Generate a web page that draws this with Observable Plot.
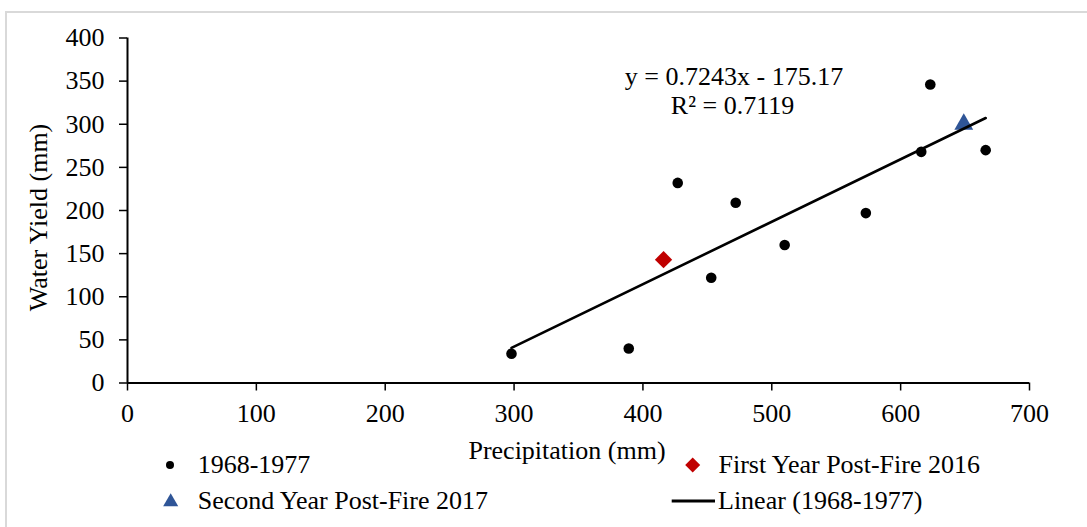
<!DOCTYPE html>
<html>
<head>
<meta charset="utf-8">
<script src="https://cdn.jsdelivr.net/npm/d3@7"></script>
<script src="https://cdn.jsdelivr.net/npm/@observablehq/plot@0.6"></script>
<style>
  html, body { margin: 0; padding: 0; background: #fff; }
  body { width: 1087px; height: 527px; overflow: hidden; position: relative;
         font-family: "Liberation Serif", "Times New Roman", serif; color: #000; }
  #frame { position: absolute; left: 5px; top: 11px; width: 1200px; height: 600px;
           border: 2px solid #d9d9d9; box-sizing: border-box; pointer-events: none; }
  #chart { position: absolute; left: 0; top: 0; }
  #legendSvg { position: absolute; left: 0; top: 0; }
  .lg { position: absolute; font-size: 26px; line-height: 30px; height: 30px; white-space: nowrap; }
</style>
</head>
<body>
<div id="chart"></div>
<svg id="legendSvg" width="1087" height="527"></svg>
<div id="legend"></div>
<div id="frame"></div>
<script>
// ---- data ----
const precip1968 = [298, 389, 427, 453, 472, 510, 573, 616, 623, 666];
const yield1968  = [34, 40, 232, 122, 209, 160, 197, 268, 346, 270];
const precip2016 = [416];
const yield2016  = [143];
const precip2017 = [649];
const yield2017  = [300];
const trendSlope = 0.7243;
const trendIntercept = -175.17;
const trendR2 = 0.7119;
const xTicks = [0, 100, 200, 300, 400, 500, 600, 700];
const yTicks = [0, 50, 100, 150, 200, 250, 300, 350, 400];
const seriesNames = ["1968-1977", "First Year Post-Fire 2016", "Second Year Post-Fire 2017", "Linear (1968-1977)"];
const xLabel = "Precipitation (mm)";
const yLabel = "Water Yield (mm)";
const colRed = "#C00000";
const colBlue = "#2F5597";

// ---- tables ----
const base = precip1968.map((x, i) => ({x, y: yield1968[i]}));
const first = precip2016.map((x, i) => ({x, y: yield2016[i]}));
const second = precip2017.map((x, i) => ({x, y: yield2017[i]}));
const trend = d3.extent(precip1968).map(x => ({x, y: trendSlope * x + trendIntercept}));
const eqLine1 = `y = ${trendSlope}x - ${Math.abs(trendIntercept)}`;
const eqLine2 = `R\u00B2 = ${trendR2}`;

const plot = Plot.plot({
  width: 1087,
  height: 470,
  marginLeft: 127,
  marginRight: 58,
  marginTop: 37.5,
  marginBottom: 87.5,
  style: {fontFamily: "Liberation Serif, 'Times New Roman', serif", fontSize: "26px", color: "#000", background: "transparent", overflow: "visible"},
  x: {domain: [0, 700]},
  y: {domain: [0, 400]},
  marks: [
    Plot.axisY({ticks: yTicks, tickSize: 8, tickPadding: 15, label: null, strokeWidth: 1.5, tickFormat: d => String(d)}),
    Plot.axisX({ticks: xTicks, tickSize: 8, tickPadding: 13, label: null, strokeWidth: 1.5, tickFormat: d => String(d)}),
    Plot.ruleX([0], {stroke: "#000", strokeWidth: 2}),
    Plot.ruleY([0], {stroke: "#000", strokeWidth: 2}),
    Plot.dot(base, {x: "x", y: "y", r: 5.3, fill: "#000", stroke: "none"}),
    Plot.dot(first, {x: "x", y: "y", symbol: "diamond2", r: 7.8, fill: colRed, stroke: "none"}),
    Plot.dot(second, {x: "x", y: "y", symbol: "triangle", r: 7, fill: colBlue, stroke: "none"}),
    Plot.line(trend, {x: "x", y: "y", stroke: "#000", strokeWidth: 2.6}),
    Plot.text([eqLine1], {frameAnchor: "top", lineAnchor: "middle", textAnchor: "middle", dx: 155.5, dy: 38.5}),
    Plot.text([eqLine2], {frameAnchor: "top", lineAnchor: "middle", textAnchor: "middle", dx: 154, dy: 67.5}),
    Plot.text([yLabel], {frameAnchor: "left", lineAnchor: "middle", textAnchor: "middle", rotate: -90, dx: -89, dy: 7}),
    Plot.text([xLabel], {frameAnchor: "bottom", lineAnchor: "middle", textAnchor: "middle", dx: -11.5, dy: 67.5})
  ]
});
document.getElementById("chart").appendChild(plot);

// ---- legend (below the plot area) ----
const lsvg = d3.select("#legendSvg");
const rowY = [465, 501];
lsvg.append("circle").attr("cx", 170).attr("cy", rowY[0]).attr("r", 4).attr("fill", "#000");
lsvg.append("path").attr("d", d3.symbol(d3.symbolDiamond2, Math.PI * 6.75 * 6.75)())
  .attr("transform", `translate(692.7,${rowY[0]})`).attr("fill", colRed);
lsvg.append("path").attr("d", d3.symbol(d3.symbolTriangle, Math.PI * 5.6 * 5.6)())
  .attr("transform", `translate(170.7,${rowY[1] + 1})`).attr("fill", colBlue);
lsvg.append("line").attr("x1", 671.7).attr("x2", 715).attr("y1", rowY[1]).attr("y2", rowY[1])
  .attr("stroke", "#000").attr("stroke-width", 3);

const legendPos = [[197.7, rowY[0]], [718.5, rowY[0]], [197.7, rowY[1]], [718, rowY[1]]];
const lg = document.getElementById("legend");
seriesNames.forEach((name, i) => {
  const s = document.createElement("span");
  s.className = "lg";
  s.textContent = name;
  s.style.left = legendPos[i][0] + "px";
  s.style.top = (legendPos[i][1] - 15) + "px";
  lg.appendChild(s);
});
</script>
</body>
</html>
